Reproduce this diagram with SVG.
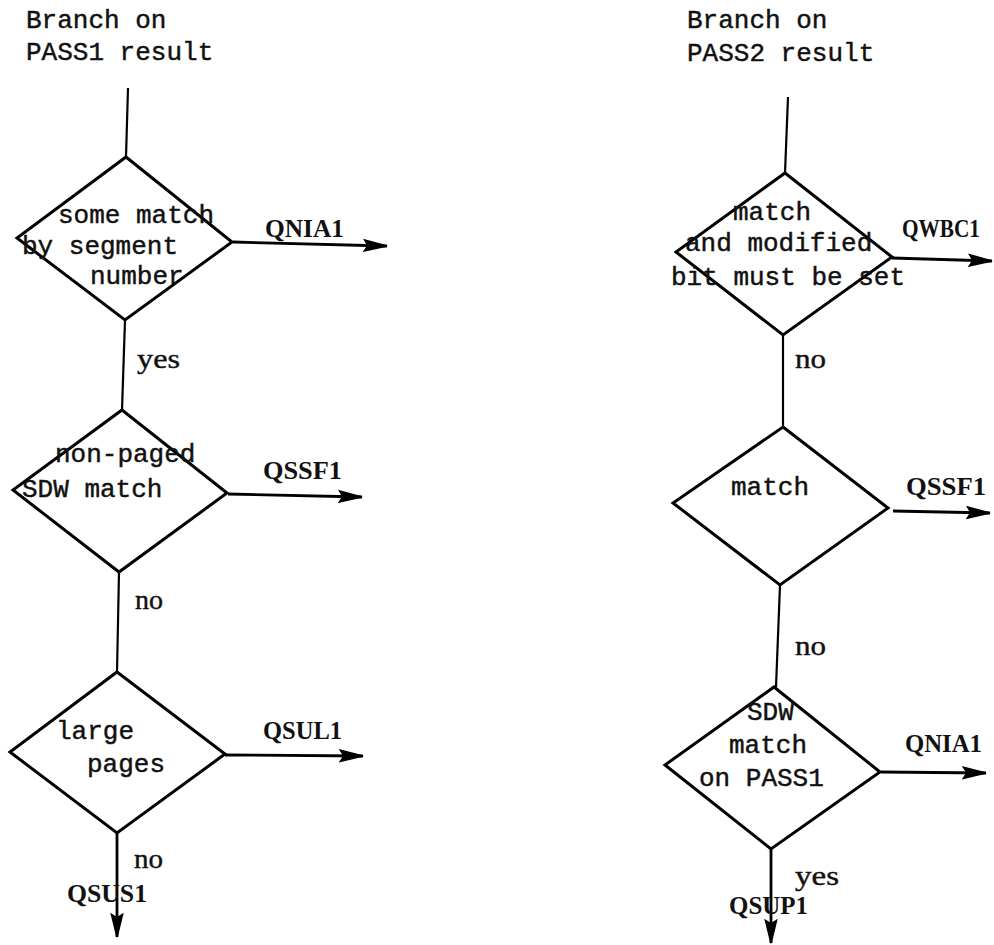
<svg xmlns="http://www.w3.org/2000/svg" width="994" height="945" viewBox="0 0 994 945">
<style>
  .bg { fill: #ffffff; }
  .dia { fill: none; stroke: #000; stroke-width: 3; stroke-linejoin: miter; }
  .ln { fill: none; stroke: #000; stroke-width: 2.2; }
  .arr { fill: none; stroke: #000; stroke-width: 2.8; marker-end: url(#ah); }
  .t { font-family: "Liberation Mono", "DejaVu Sans Mono", monospace; font-size: 26px; fill: #111; stroke: #111; stroke-width: 0.45; }
  .lbl { font-family: "Liberation Serif", "DejaVu Serif", serif; font-size: 26px; fill: #111; font-weight: bold; }
  .yn { font-family: "Liberation Serif", "DejaVu Serif", serif; font-size: 27px; fill: #111; stroke: #111; stroke-width: 0.4; }
</style>
<defs>
  <marker id="ah" markerUnits="userSpaceOnUse" markerWidth="26" markerHeight="14" viewBox="0 0 26 14" refX="24" refY="7" orient="auto">
    <path d="M1.5,1.5 L24,7 L1.5,12.5 L5,7 z" fill="#000" stroke="#000" stroke-width="1.6" stroke-linejoin="miter"/>
  </marker>
</defs>
<rect class="bg" x="0" y="0" width="994" height="945"/>

<g id="title1">
  <text class="t" x="26" y="28">Branch on</text>
  <text class="t" x="26" y="60">PASS1 result</text>
</g>
<g id="title2">
  <text class="t" x="687" y="28">Branch on</text>
  <text class="t" x="687" y="61">PASS2 result</text>
</g>

<g id="connectors">
  <!-- left column -->
  <line class="ln" x1="128" y1="88" x2="126" y2="157"/>
  <line class="arr" x1="233" y1="242" x2="387" y2="246"/>
  <line class="ln" x1="125" y1="320" x2="122" y2="410"/>
  <line class="arr" x1="228" y1="494" x2="362" y2="497"/>
  <line class="ln" x1="119" y1="572" x2="117" y2="672"/>
  <line class="arr" x1="225" y1="755" x2="363" y2="756"/>
  <line class="arr" x1="117" y1="833" x2="117" y2="937"/>
  <!-- right column -->
  <line class="ln" x1="788" y1="97" x2="785" y2="173"/>
  <line class="arr" x1="892" y1="258" x2="992" y2="261"/>
  <line class="ln" x1="783" y1="335" x2="783" y2="427"/>
  <line class="arr" x1="893" y1="511" x2="990" y2="513"/>
  <line class="ln" x1="780" y1="585" x2="776" y2="687"/>
  <line class="arr" x1="881" y1="772" x2="986" y2="773"/>
  <line class="arr" x1="771" y1="849" x2="771" y2="943"/>

  <!-- connector labels -->
  <text class="lbl" x="265" y="237" textLength="79" lengthAdjust="spacingAndGlyphs">QNIA1</text>
  <text class="yn" x="137" y="368" textLength="43" lengthAdjust="spacingAndGlyphs">yes</text>
  <text class="lbl" x="263" y="479" textLength="79" lengthAdjust="spacingAndGlyphs">QSSF1</text>
  <text class="yn" x="135" y="609" textLength="28" lengthAdjust="spacingAndGlyphs">no</text>
  <text class="lbl" x="263" y="739" textLength="79" lengthAdjust="spacingAndGlyphs">QSUL1</text>
  <text class="yn" x="134" y="868" textLength="29" lengthAdjust="spacingAndGlyphs">no</text>
  <text class="lbl" x="67" y="902" textLength="80" lengthAdjust="spacingAndGlyphs">QSUS1</text>

  <text class="lbl" x="902" y="237" font-size="21" textLength="78" lengthAdjust="spacingAndGlyphs">QWBC1</text>
  <text class="yn" x="795" y="368" textLength="31" lengthAdjust="spacingAndGlyphs">no</text>
  <text class="lbl" x="906" y="495" textLength="80" lengthAdjust="spacingAndGlyphs">QSSF1</text>
  <text class="yn" x="795" y="655" textLength="31" lengthAdjust="spacingAndGlyphs">no</text>
  <text class="lbl" x="905" y="752" textLength="77" lengthAdjust="spacingAndGlyphs">QNIA1</text>
  <text class="yn" x="795" y="885" textLength="44" lengthAdjust="spacingAndGlyphs">yes</text>
  <text class="lbl" x="729" y="914" textLength="79" lengthAdjust="spacingAndGlyphs">QSUP1</text>
</g>

<g id="d_some_match">
  <polygon class="dia" points="126,157 232,242 125,320 17,238"/>
  <text class="t" x="58" y="223">some match</text>
  <text class="t" x="22" y="254">by segment</text>
  <text class="t" x="90" y="284">number</text>
</g>
<g id="d_nonpaged">
  <polygon class="dia" points="122,410 227,493 119,572 13,490"/>
  <text class="t" x="55" y="462">non-paged</text>
  <text class="t" x="22" y="497">SDW match</text>
</g>
<g id="d_large">
  <polygon class="dia" points="117,672 225,754 117,833 10,752"/>
  <text class="t" x="56" y="739">large</text>
  <text class="t" x="87" y="772">pages</text>
</g>

<g id="d_modified">
  <polygon class="dia" points="785,173 892,257 783,335 676,252"/>
  <text class="t" x="733" y="220">match</text>
  <text class="t" x="685" y="251">and modified</text>
  <text class="t" x="671" y="285">bit must be set</text>
</g>
<g id="d_match">
  <polygon class="dia" points="783,427 888,508 780,585 673,503"/>
  <text class="t" x="731" y="495">match</text>
</g>
<g id="d_sdw_pass1">
  <polygon class="dia" points="774,687 880,772 771,849 665,765"/>
  <text class="t" x="747" y="720">SDW</text>
  <text class="t" x="729" y="753">match</text>
  <text class="t" x="699" y="786">on PASS1</text>
</g>
</svg>
